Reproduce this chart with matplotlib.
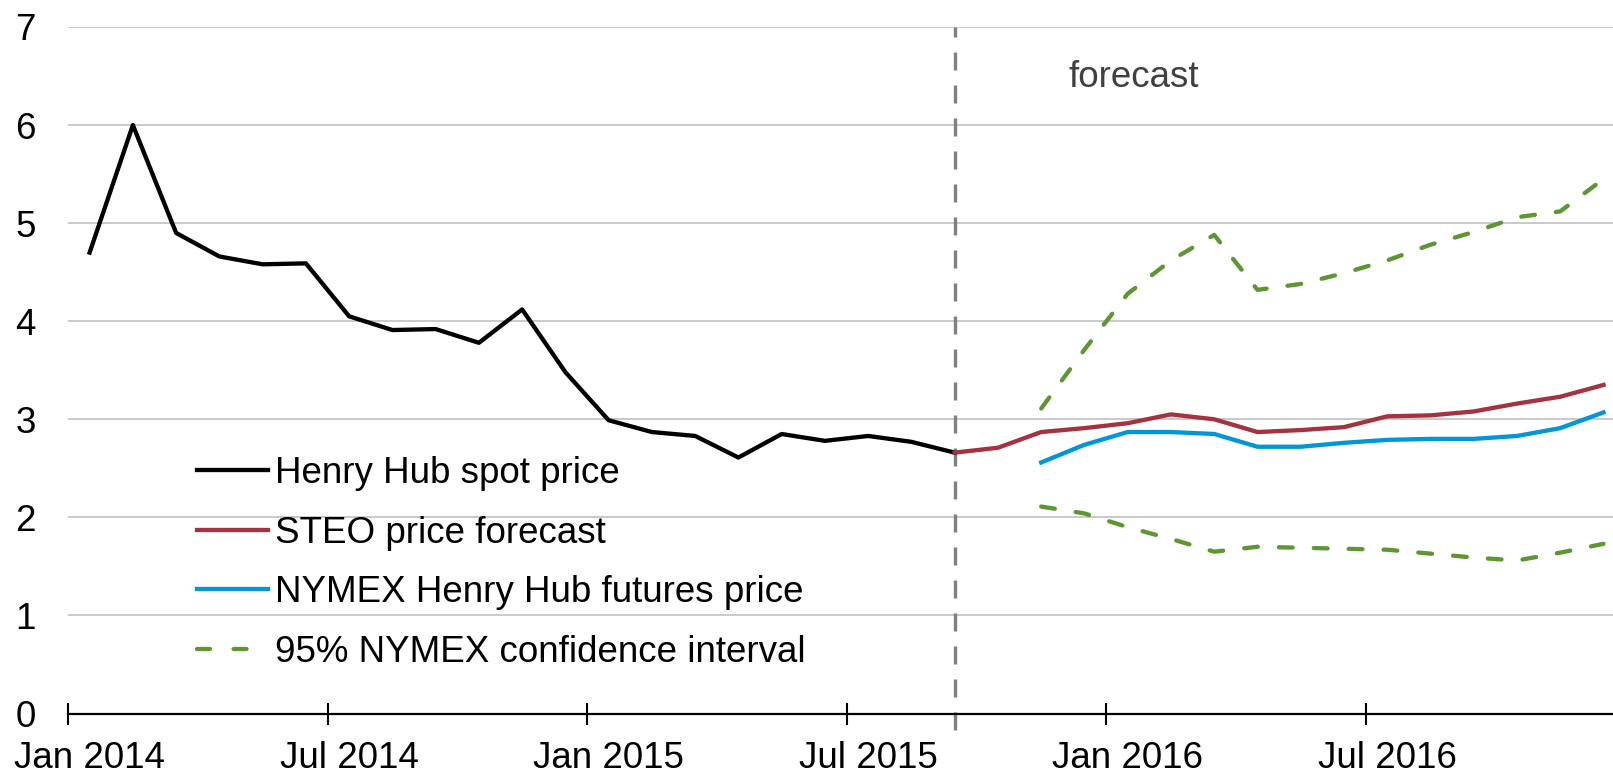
import numpy as np
import pandas as pd
import matplotlib
matplotlib.use('Agg')
import matplotlib.pyplot as plt
from matplotlib.lines import Line2D

plt.rcParams['font.family'] = ['Liberation Sans', 'DejaVu Sans']

#%% Data - monthly Henry Hub prices ($/MMBtu), Jan 2014 - Dec 2016
months = pd.date_range('2014-01-01', periods=36, freq='MS')

spot = [4.70, 6.00, 4.90, 4.66, 4.58, 4.59, 4.05, 3.91, 3.92, 3.78, 4.12, 3.48,
        2.99, 2.87, 2.83, 2.61, 2.85, 2.78, 2.83, 2.77, 2.66]
steo = [2.66, 2.71, 2.87, 2.91, 2.96, 3.05, 3.00, 2.87, 2.89, 2.92, 3.03, 3.04,
        3.08, 3.16, 3.23, 3.35]
nymex = [2.56, 2.74, 2.87, 2.87, 2.85, 2.72, 2.72, 2.76, 2.79, 2.80, 2.80, 2.83,
         2.91, 3.07]
ci_upper = [3.11, 3.71, 4.28, 4.62, 4.88, 4.32, 4.38, 4.49, 4.62, 4.78, 4.91,
            5.06, 5.12, 5.45]
ci_lower = [2.11, 2.04, 1.90, 1.78, 1.65, 1.70, 1.69, 1.68, 1.67, 1.63, 1.59,
            1.56, 1.64, 1.73]

labels = ['Henry Hub spot price', 'STEO price forecast',
          'NYMEX Henry Hub futures price', '95% NYMEX confidence interval']

# month centres (category axis, ticks sit between months)
x = np.arange(len(months)) + 0.5
x_spot = x[:len(spot)]
x_steo = x[len(spot) - 1:len(spot) - 1 + len(steo)]
x_nym = x[len(months) - len(nymex):]

fs = 26.5
lw = 3.1
green = '#5D9732'
ci_dash = (0, (3.2, 4.9))

fig = plt.figure(figsize=(16.13, 7.74), dpi=100)
ax = fig.add_axes([68 / 1613, 60.5 / 774, 1 - 68 / 1613, 686.5 / 774])

h1, = ax.plot(x_spot, spot, color='black', lw=lw)
h2, = ax.plot(x_steo, steo, color='#A33340', lw=lw)
h3, = ax.plot(x_nym, nymex, color='#0096D7', lw=lw)
ax.plot(x_nym, ci_upper, color=green, lw=lw, linestyle=ci_dash,
        dash_capstyle='round')
ax.plot(x_nym, ci_lower, color=green, lw=lw, linestyle=ci_dash,
        dash_capstyle='round')
# legend proxy so the short handle shows two clean dashes
h4 = Line2D([], [], color=green, lw=lw, linestyle=(0, (3.0, 5.5)),
            dash_capstyle='round')

# forecast divider
xf = x_spot[-1]
ax.plot([xf, xf], [-0.17, 7], color='#808080', lw=2.4,
        linestyle=(0, (5.4, 4.5)), clip_on=False, zorder=1)
ax.text(23.12, 6.39, 'forecast', fontsize=fs, color='#404040', va='baseline')

# axes
ax.set_xlim(0, 35.72)
ax.set_ylim(0, 7)
for s in ['top', 'right', 'left']:
    ax.spines[s].set_visible(False)
ax.spines['bottom'].set_linewidth(1.6)
ax.spines['bottom'].set_zorder(3)

ax.set_yticks(range(0, 8))
ax.tick_params(axis='y', length=0, pad=23, labelsize=fs)
ax.yaxis.grid(True, color='#C0C0C0', lw=1.2)
ax.set_axisbelow(True)

tick_idx = np.arange(0, len(months), 6)
ax.set_xticks(tick_idx)
ax.set_xticklabels([])
ax.set_xticks(tick_idx + 0.5, minor=True)
ax.set_xticklabels([months[i].strftime('%b %Y') for i in tick_idx], minor=True)
ax.tick_params(axis='x', which='major', direction='inout', length=16,
               width=1.5, color='black')
ax.tick_params(axis='x', which='minor', length=0, pad=20, labelsize=fs)

ax.legend([h1, h2, h3, h4], labels, loc='upper left',
          bbox_to_anchor=(197 / 1613, 1 - 456 / 774),
          bbox_transform=fig.transFigure, frameon=False, fontsize=fs,
          borderpad=0, borderaxespad=0, handlelength=1.93,
          handletextpad=0.2, labelspacing=0.67)

fig.savefig('out.png', dpi=100)
